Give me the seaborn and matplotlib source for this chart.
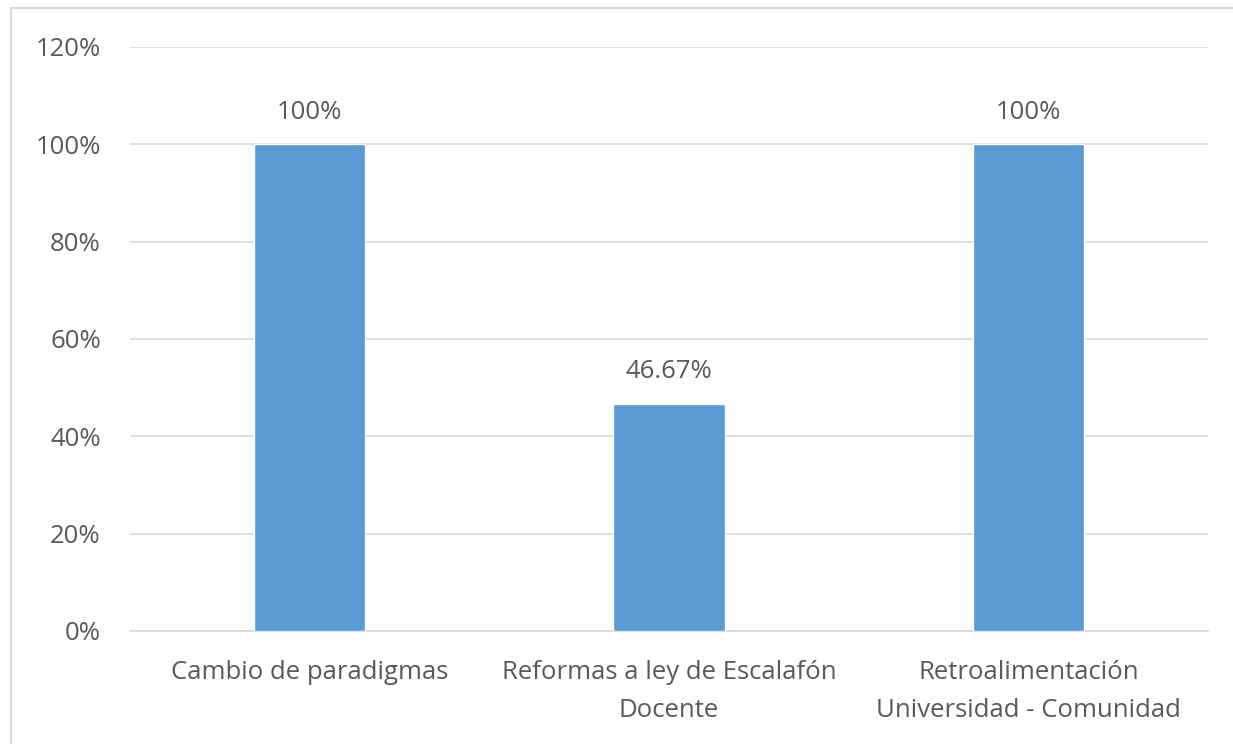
import matplotlib
matplotlib.use("Agg")
import matplotlib.pyplot as plt
import pandas as pd
import seaborn as sns
from matplotlib.lines import Line2D

categories = [
    "Cambio de paradigmas",
    "Reformas a ley de Escalafón\nDocente",
    "Retroalimentación\nUniversidad - Comunidad",
]
values = [100, 46.67, 100]
value_labels = ["100%", "46.67%", "100%"]
y_ticks = [0, 20, 40, 60, 80, 100, 120]

BAR = "#5B9BD5"
TEXT = "#595959"
GRID = "#D9D9D9"
FS = 18.5

sns.set_theme(style="white")
plt.rcParams["font.family"] = ["Open Sans", "DejaVu Sans"]

df = pd.DataFrame({"categoria": categories, "valor": values})

fig = plt.figure(figsize=(12.33, 7.44), dpi=100)
ax = fig.add_axes([130 / 1233, 1 - 631 / 744, (1208 - 130) / 1233, (631 - 47) / 744])

sns.barplot(data=df, x="categoria", y="valor", color=BAR, width=0.31,
            saturation=1, ax=ax, zorder=3)

ax.set_ylim(0, 120)
ax.set_xlim(-0.5, 2.5)
ax.set_yticks(y_ticks)
ax.set_yticklabels([f"{t}%" for t in y_ticks], color=TEXT, fontsize=FS)
ax.yaxis.grid(True, color=GRID, linewidth=1.2, zorder=0)
ax.set_axisbelow(True)
for side in ["top", "right", "left"]:
    ax.spines[side].set_visible(False)
ax.spines["bottom"].set_color(GRID)
ax.spines["bottom"].set_linewidth(1.2)
ax.tick_params(axis="both", length=0)
ax.tick_params(axis="y", pad=21)
ax.tick_params(axis="x", pad=21)
ax.set_xticklabels(categories, color=TEXT, fontsize=FS, linespacing=1.7)
ax.set_xlabel("")
ax.set_ylabel("")

for i, (v, lab) in enumerate(zip(values, value_labels)):
    ax.annotate(lab, (i, v), xytext=(0, 23), textcoords="offset points",
                ha="center", va="center", color=TEXT, fontsize=FS)

# chart frame, cropped at right and bottom like the reference
fig.add_artist(Line2D([11 / 1233, 11 / 1233], [-0.1, 1 - 8 / 744],
                      transform=fig.transFigure, color=GRID, linewidth=1.5))
fig.add_artist(Line2D([11 / 1233, 1.1], [1 - 8 / 744, 1 - 8 / 744],
                      transform=fig.transFigure, color=GRID, linewidth=1.5))

fig.savefig("out.png", dpi=100, facecolor="white")
